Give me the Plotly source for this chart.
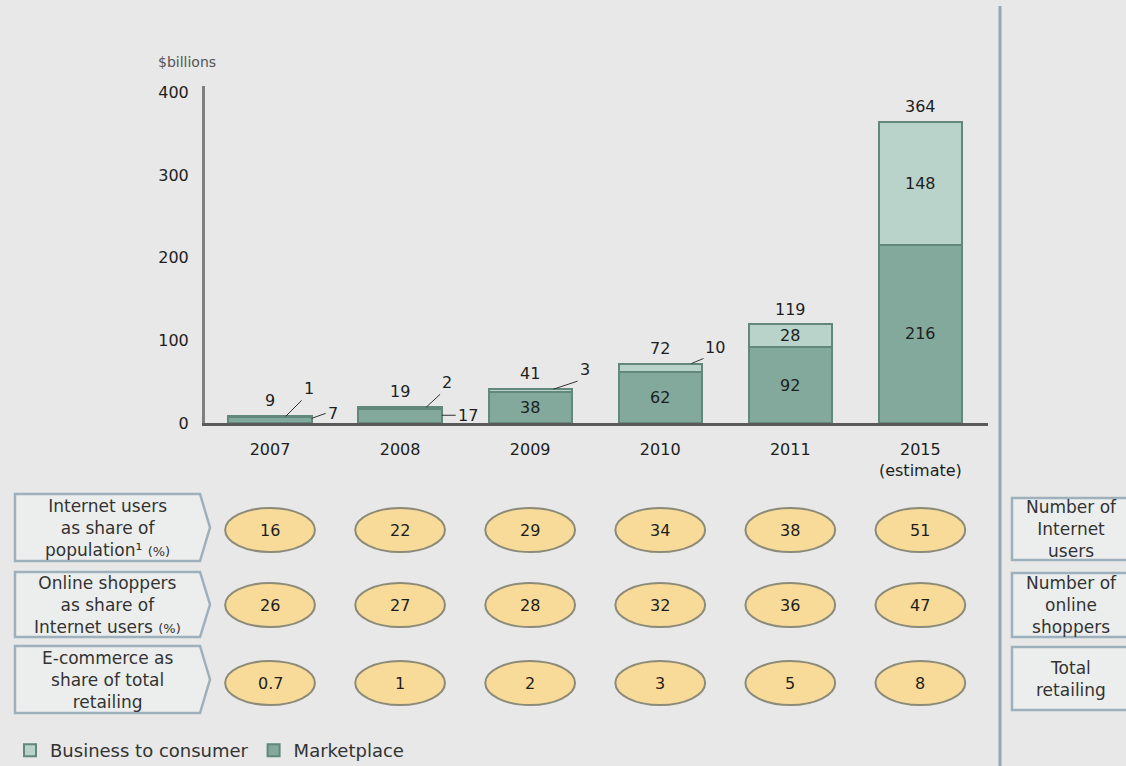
import plotly.graph_objects as go

# ---------------- data ----------------
years = ["2007", "2008", "2009", "2010", "2011", "2015"]
year_labels = ["2007", "2008", "2009", "2010", "2011", "2015<br>(estimate)"]
marketplace = [7, 17, 38, 62, 92, 216]
b2c = [1, 2, 3, 10, 28, 148]
totals = [9, 19, 41, 72, 119, 364]
internet_share = [16, 22, 29, 34, 38, 51]
shopper_share = [26, 27, 28, 32, 36, 47]
ecommerce_share = ["0.7", "1", "2", "3", "5", "8"]
y_ticks = [0, 100, 200, 300, 400]
row_labels = [
    "Internet users<br>as share of<br>population¹ <span style='font-size:13px'>(%)</span>",
    "Online shoppers<br>as share of<br>Internet users <span style='font-size:13px'>(%)</span>",
    "E-commerce as<br>share of total<br>retailing",
]
right_labels = [
    "Number of<br>Internet<br>users",
    "Number of<br>online<br>shoppers",
    "Total<br>retailing",
]
series_names = ["Marketplace", "Business to consumer"]

# ---------------- style ----------------
W, H = 1126, 766
BG = "#e7e8e7"
MKT = "#82a99b"
B2C = "#b9d3ca"
EDGE = "#62877d"
TXT = "#1e1e1e"
FONT = "DejaVu Sans"


def py(p):
    """pixel row -> paper y"""
    return (H - p) / H


def px(p):
    return p / W


x_dom = [px(205), px(988)]
y_dom = [py(423), py(86)]

fig = go.Figure()
fig.add_trace(go.Bar(
    x=years, y=marketplace, name=series_names[0],
    marker=dict(color=MKT, line=dict(color=EDGE, width=2)),
    width=0.64, hoverinfo="x+y+name",
))
fig.add_trace(go.Bar(
    x=years, y=b2c, name=series_names[1],
    marker=dict(color=B2C, line=dict(color=EDGE, width=2)),
    width=0.64, hoverinfo="x+y+name",
))

NUMF = dict(size=16, color=TXT, family=FONT)
ann = []
# totals above bars
for i, t in enumerate(totals):
    ann.append(dict(x=i, y=t, xref="x", yref="y", text=str(t), showarrow=False,
                    xanchor="center", yanchor="bottom", yshift=4, font=NUMF))

# segment labels: inside when large enough, otherwise with leader line
leader_mkt = {0: (0.32, 0.8, 14, -5), 1: (0.32, 0.55, 14, 0)}
leader_b2c = {0: (0.12, 16, -16), 1: (0.2, 14, -13), 2: (0.18, 24, -8), 3: (0.24, 12, -5)}
for i in range(len(years)):
    m, b = marketplace[i], b2c[i]
    if m >= 20:
        ann.append(dict(x=i, y=m / 2, xref="x", yref="y", text=str(m), showarrow=False,
                        xanchor="center", yanchor="middle", font=NUMF))
    else:
        dx, fr, ax, ay = leader_mkt[i]
        ann.append(dict(x=i + dx, y=m * fr, xref="x", yref="y", text=str(m),
                        showarrow=True, arrowhead=0, arrowwidth=1, arrowcolor="#333",
                        ax=ax, ay=ay, xanchor="left", yanchor="middle", standoff=0,
                        font=NUMF))
    if b >= 20:
        ann.append(dict(x=i, y=m + b / 2, xref="x", yref="y", text=str(b), showarrow=False,
                        xanchor="center", yanchor="middle", font=NUMF))
    else:
        dx, ax, ay = leader_b2c[i]
        ann.append(dict(x=i + dx, y=m + b, xref="x", yref="y", text=str(b),
                        showarrow=True, arrowhead=0, arrowwidth=1, arrowcolor="#333",
                        ax=ax, ay=ay, xanchor="left", yanchor="bottom", standoff=0,
                        font=NUMF))

# y-axis unit
ann.append(dict(x=px(156), y=py(62), xref="paper", yref="paper", text="$billions",
                showarrow=False, xanchor="left", yanchor="middle",
                font=dict(size=14, color="#555", family=FONT)))

shapes = []
# indicator rows
rows = [internet_share, shopper_share, ecommerce_share]
row_centers = [530, 605, 683]
box_rows = [(494, 561), (572, 637), (646, 713)]
right_rows = [(498, 560), (573, 637), (647, 710)]
LBLF = dict(size=17, color="#333", family=FONT)
for r, vals in enumerate(rows):
    cy = row_centers[r]
    for i, v in enumerate(vals):
        shapes.append(dict(type="circle", xref="x", yref="paper",
                           x0=i - 0.345, x1=i + 0.345, y0=py(cy + 22), y1=py(cy - 22),
                           fillcolor="#f8db98", line=dict(color="#8c8a78", width=2)))
        ann.append(dict(x=i, y=py(cy), xref="x", yref="paper", text=str(v), showarrow=False,
                        xanchor="center", yanchor="middle", font=NUMF))
    # left arrow box
    t, b = box_rows[r]
    mid = (t + b) / 2
    path = (f"M {px(15)},{py(t)} L {px(200)},{py(t)} L {px(210)},{py(mid)} "
            f"L {px(200)},{py(b)} L {px(15)},{py(b)} Z")
    shapes.append(dict(type="path", xref="paper", yref="paper", path=path,
                       fillcolor="#eceeee", line=dict(color="#9fb0bd", width=2.5)))
    ann.append(dict(x=px(107), y=py(mid), xref="paper", yref="paper", text=row_labels[r],
                    showarrow=False, align="center", xanchor="center", yanchor="middle",
                    font=LBLF))
    # right box
    t2, b2 = right_rows[r]
    shapes.append(dict(type="rect", xref="paper", yref="paper",
                       x0=px(1012), x1=px(1135), y0=py(b2), y1=py(t2),
                       fillcolor="#eceeee", line=dict(color="#9fb0bd", width=2.5)))
    ann.append(dict(x=px(1071), y=py((t2 + b2) / 2), xref="paper", yref="paper",
                    text=right_labels[r], showarrow=False, align="center",
                    xanchor="center", yanchor="middle", font=LBLF))

# vertical divider
shapes.append(dict(type="line", xref="paper", yref="paper",
                   x0=px(1000), x1=px(1000), y0=0, y1=py(6),
                   line=dict(color="#95a6b4", width=3)))

fig.update_layout(
    width=W, height=H, autosize=False,
    margin=dict(l=0, r=0, t=0, b=0, autoexpand=False),
    paper_bgcolor=BG, plot_bgcolor=BG,
    barmode="stack", bargap=0.36,
    font=dict(family=FONT, color=TXT),
    showlegend=True,
    legend=dict(orientation="h", x=px(10), y=py(769), xanchor="left", yanchor="bottom",
                traceorder="reversed", bgcolor="rgba(0,0,0,0)",
                font=dict(size=18, color="#333", family=FONT), itemwidth=30),
    xaxis=dict(domain=x_dom, range=[-0.5, 5.52], type="category",
               tickvals=years, ticktext=year_labels, automargin=False,
               showline=True, linecolor="#5a5a5a", linewidth=3,
               showgrid=False, zeroline=False, ticks="", ticklabelstandoff=10,
               tickfont=dict(size=16, color=TXT, family=FONT)),
    yaxis=dict(domain=y_dom, range=[0, 408], tickvals=y_ticks, automargin=False,
               showline=True, linecolor="#808080", linewidth=3,
               showgrid=False, zeroline=False, ticks="", ticklabelstandoff=10,
               tickfont=dict(size=16, color=TXT, family=FONT)),
    shapes=shapes, annotations=ann,
)

post = (
    "document.body.style.margin='0';"
    "document.body.style.overflow='hidden';"
    "document.body.style.background='" + BG + "';"
)
fig.write_html("out.html", post_script=post, config={"displayModeBar": False})
